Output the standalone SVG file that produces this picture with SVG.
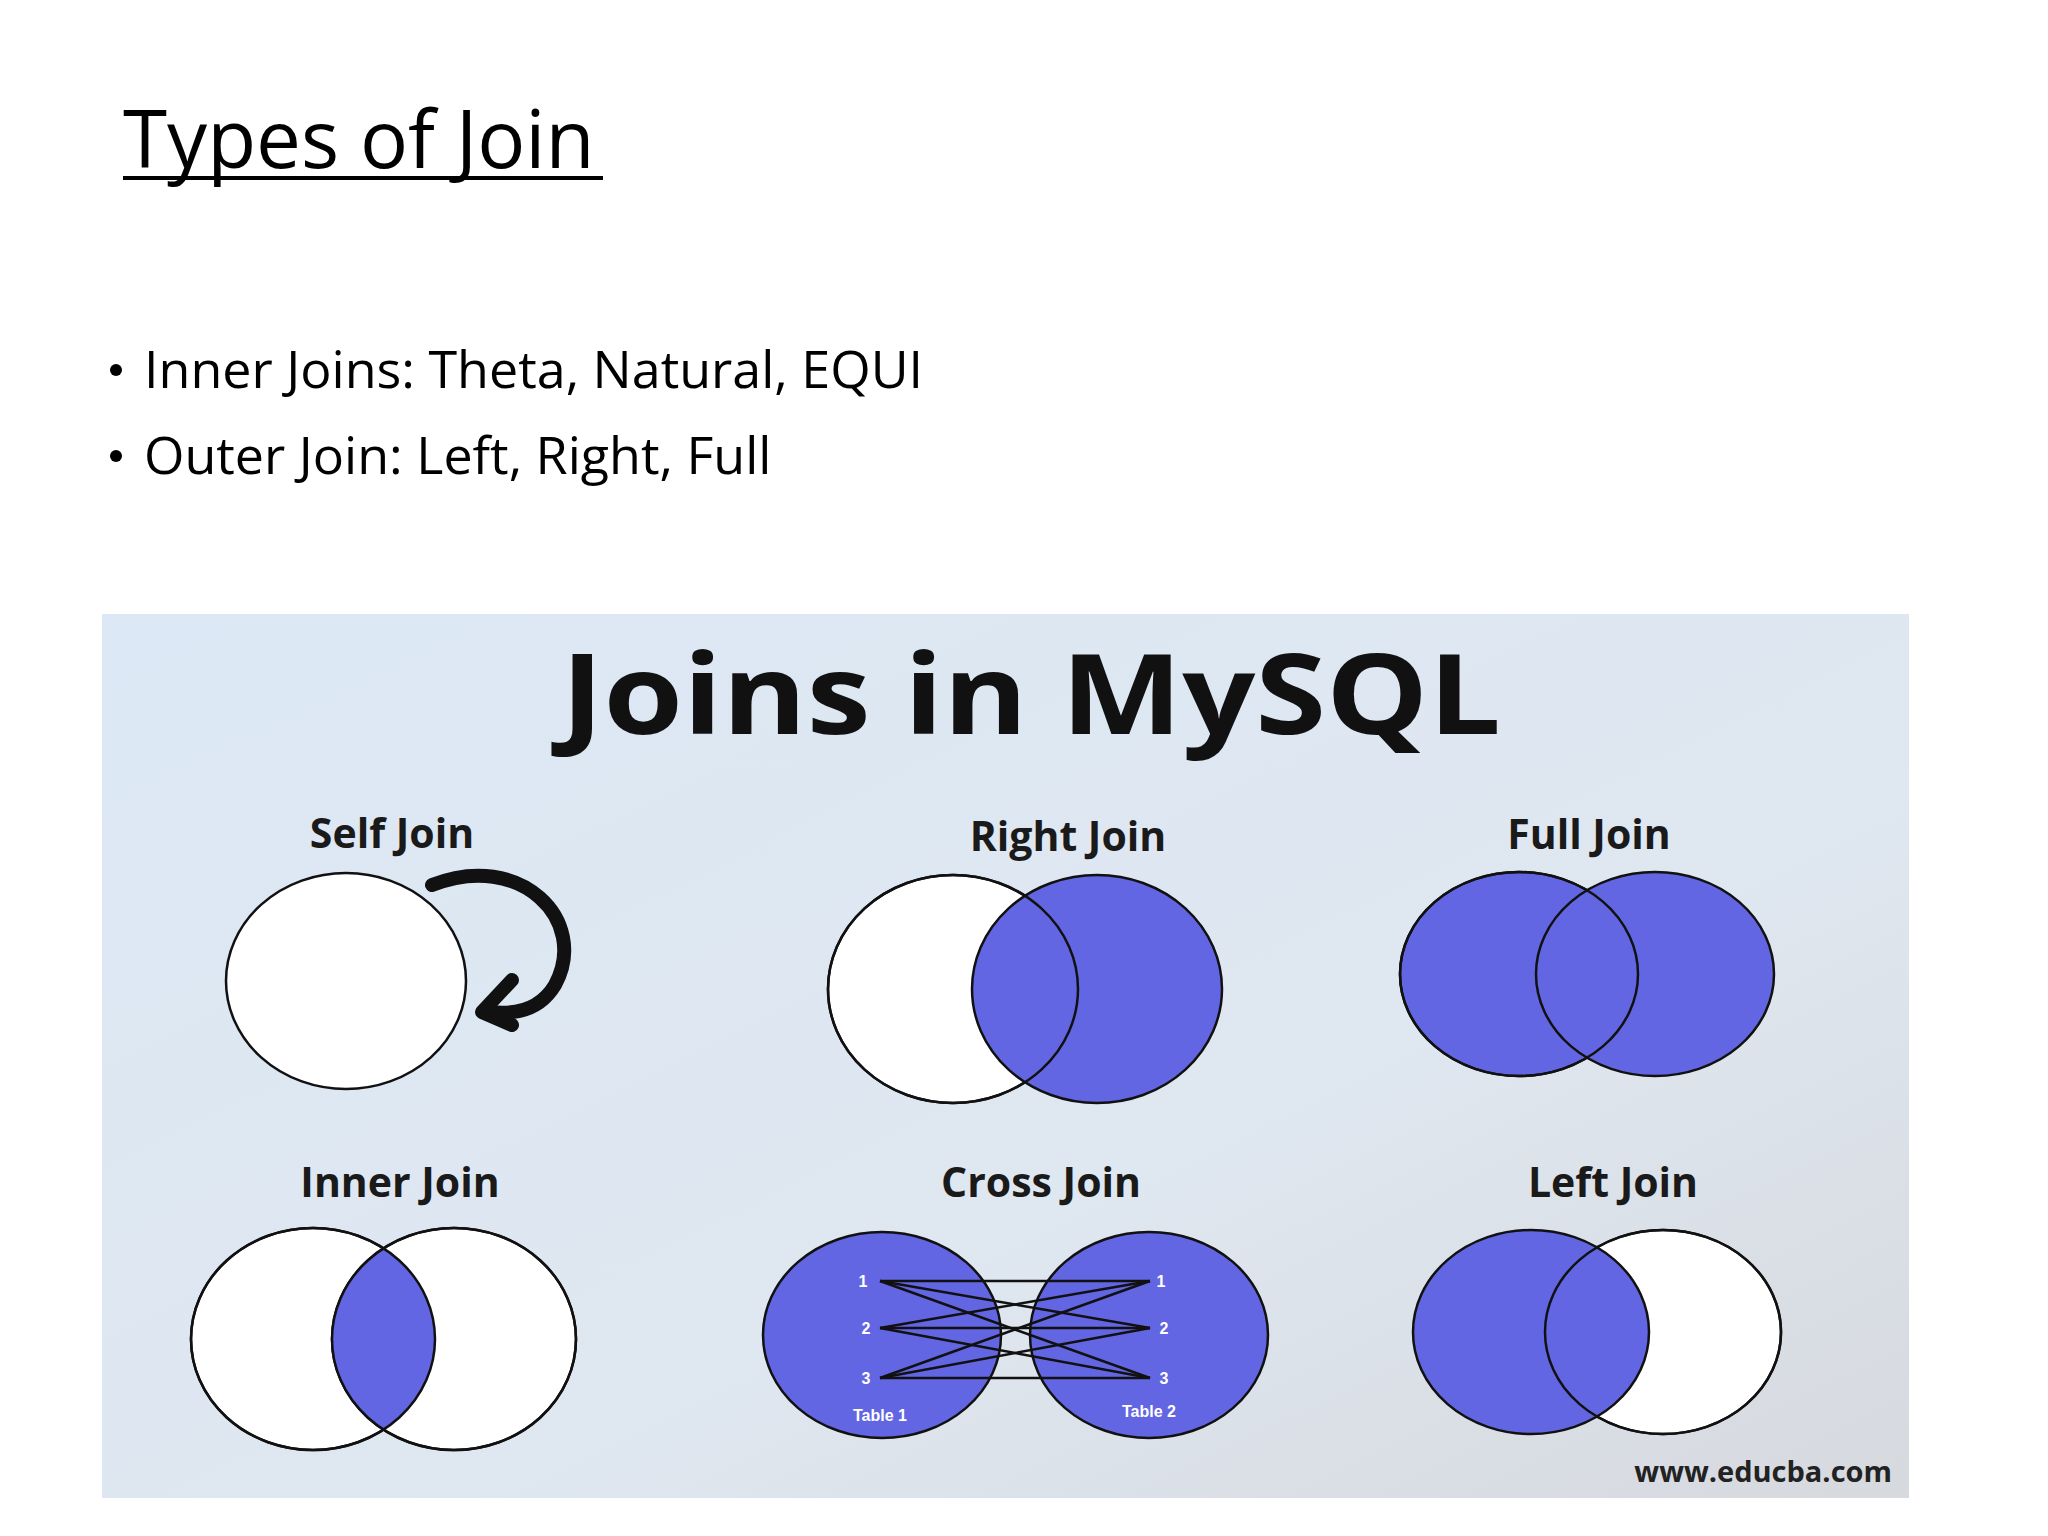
<svg xmlns="http://www.w3.org/2000/svg" width="2048" height="1536" viewBox="0 0 2048 1536">
<style>
.t{font-family:"Open Sans","Liberation Sans",sans-serif;fill:#000}
.lab{font-family:"Open Sans","Liberation Sans",sans-serif;font-weight:bold;font-size:41px;fill:#1a1a1a;text-anchor:middle}
.c{stroke:#111;stroke-width:2.5}
.w{fill:#fff}
.b{fill:#6366e2}
.o{fill:none}
.n{font-family:"Liberation Sans",sans-serif;font-size:16px;font-weight:bold;fill:#fff;text-anchor:middle}
</style>
<defs>
<linearGradient id="bg" x1="0" y1="0" x2="1" y2="1">
<stop offset="0" stop-color="#dce8f5"/><stop offset="0.6" stop-color="#dfe7f0"/><stop offset="1" stop-color="#d6d9de"/>
</linearGradient>
<clipPath id="ij"><ellipse cx="313" cy="1339" rx="122" ry="111"/></clipPath>
</defs>
<rect width="2048" height="1536" fill="#fff"/>
<text class="t" x="123" y="168" font-size="80">Types of Join</text>
<rect x="123" y="176" width="480" height="4" fill="#000"/>
<circle cx="116" cy="370" r="6" fill="#000"/>
<text class="t" x="144" y="388" font-size="52">Inner Joins: Theta, Natural, EQUI</text>
<circle cx="116" cy="456" r="6" fill="#000"/>
<text class="t" x="144" y="474" font-size="52">Outer Join: Left, Right, Full</text>
<rect x="102" y="614" width="1807" height="884" fill="url(#bg)"/>
<text x="1031" y="734" font-family="'Open Sans','Liberation Sans',sans-serif" font-weight="bold" font-size="112" text-anchor="middle" fill="#111" textLength="940" lengthAdjust="spacingAndGlyphs">Joins in MySQL</text>
<g id="self">
<text class="lab" x="392" y="848">Self Join</text>
<ellipse class="c w" cx="346" cy="981" rx="120" ry="108"/>
<path d="M432 885 C520 850 590 920 555 985 C540 1010 515 1015 490 1012" fill="none" stroke="#111" stroke-width="14" stroke-linecap="round"/>
<path d="M512 980 L482 1012 L512 1025" fill="none" stroke="#111" stroke-width="14" stroke-linecap="round" stroke-linejoin="round"/>
</g>
<g id="right">
<text class="lab" x="1068" y="851">Right Join</text>
<ellipse class="c w" cx="953" cy="989" rx="125" ry="114"/>
<ellipse class="c b" cx="1097" cy="989" rx="125" ry="114"/>
<ellipse class="c o" cx="953" cy="989" rx="125" ry="114"/>
</g>
<g id="full">
<text class="lab" x="1589" y="849">Full Join</text>
<ellipse class="c b" cx="1519" cy="974" rx="119" ry="102"/>
<ellipse class="c b" cx="1655" cy="974" rx="119" ry="102"/>
<ellipse class="c o" cx="1519" cy="974" rx="119" ry="102"/>
</g>
<g id="inner">
<text class="lab" x="400" y="1197">Inner Join</text>
<ellipse class="c w" cx="313" cy="1339" rx="122" ry="111"/>
<ellipse class="c w" cx="454" cy="1339" rx="122" ry="111"/>
<ellipse class="b" cx="454" cy="1339" rx="122" ry="111" clip-path="url(#ij)"/>
<ellipse class="c o" cx="313" cy="1339" rx="122" ry="111"/>
<ellipse class="c o" cx="454" cy="1339" rx="122" ry="111"/>
</g>
<g id="cross">
<text class="lab" x="1041" y="1197">Cross Join</text>
<ellipse class="c b" cx="882" cy="1335" rx="119" ry="103"/>
<ellipse class="c b" cx="1149" cy="1335" rx="119" ry="103"/>
<g stroke="#111" stroke-width="2.5">
<line x1="880" y1="1281" x2="1150" y2="1281"/><line x1="880" y1="1281" x2="1150" y2="1328"/><line x1="880" y1="1281" x2="1150" y2="1378"/>
<line x1="880" y1="1328" x2="1150" y2="1281"/><line x1="880" y1="1328" x2="1150" y2="1328"/><line x1="880" y1="1328" x2="1150" y2="1378"/>
<line x1="880" y1="1378" x2="1150" y2="1281"/><line x1="880" y1="1378" x2="1150" y2="1328"/><line x1="880" y1="1378" x2="1150" y2="1378"/>
</g>
<text class="n" x="863" y="1287">1</text><text class="n" x="866" y="1334">2</text><text class="n" x="866" y="1384">3</text>
<text class="n" x="1161" y="1287">1</text><text class="n" x="1164" y="1334">2</text><text class="n" x="1164" y="1384">3</text>
<text class="n" x="880" y="1421" font-size="11">Table 1</text><text class="n" x="1149" y="1417" font-size="11">Table 2</text>
</g>
<g id="left">
<text class="lab" x="1613" y="1197">Left Join</text>
<ellipse class="c w" cx="1663" cy="1332" rx="118" ry="102"/>
<ellipse class="c b" cx="1531" cy="1332" rx="118" ry="102"/>
<ellipse class="c o" cx="1663" cy="1332" rx="118" ry="102"/>
</g>
<text x="1892" y="1482" font-family="'Open Sans','Liberation Sans',sans-serif" font-weight="bold" font-size="29" text-anchor="end" fill="#222">www.educba.com</text>
</svg>
